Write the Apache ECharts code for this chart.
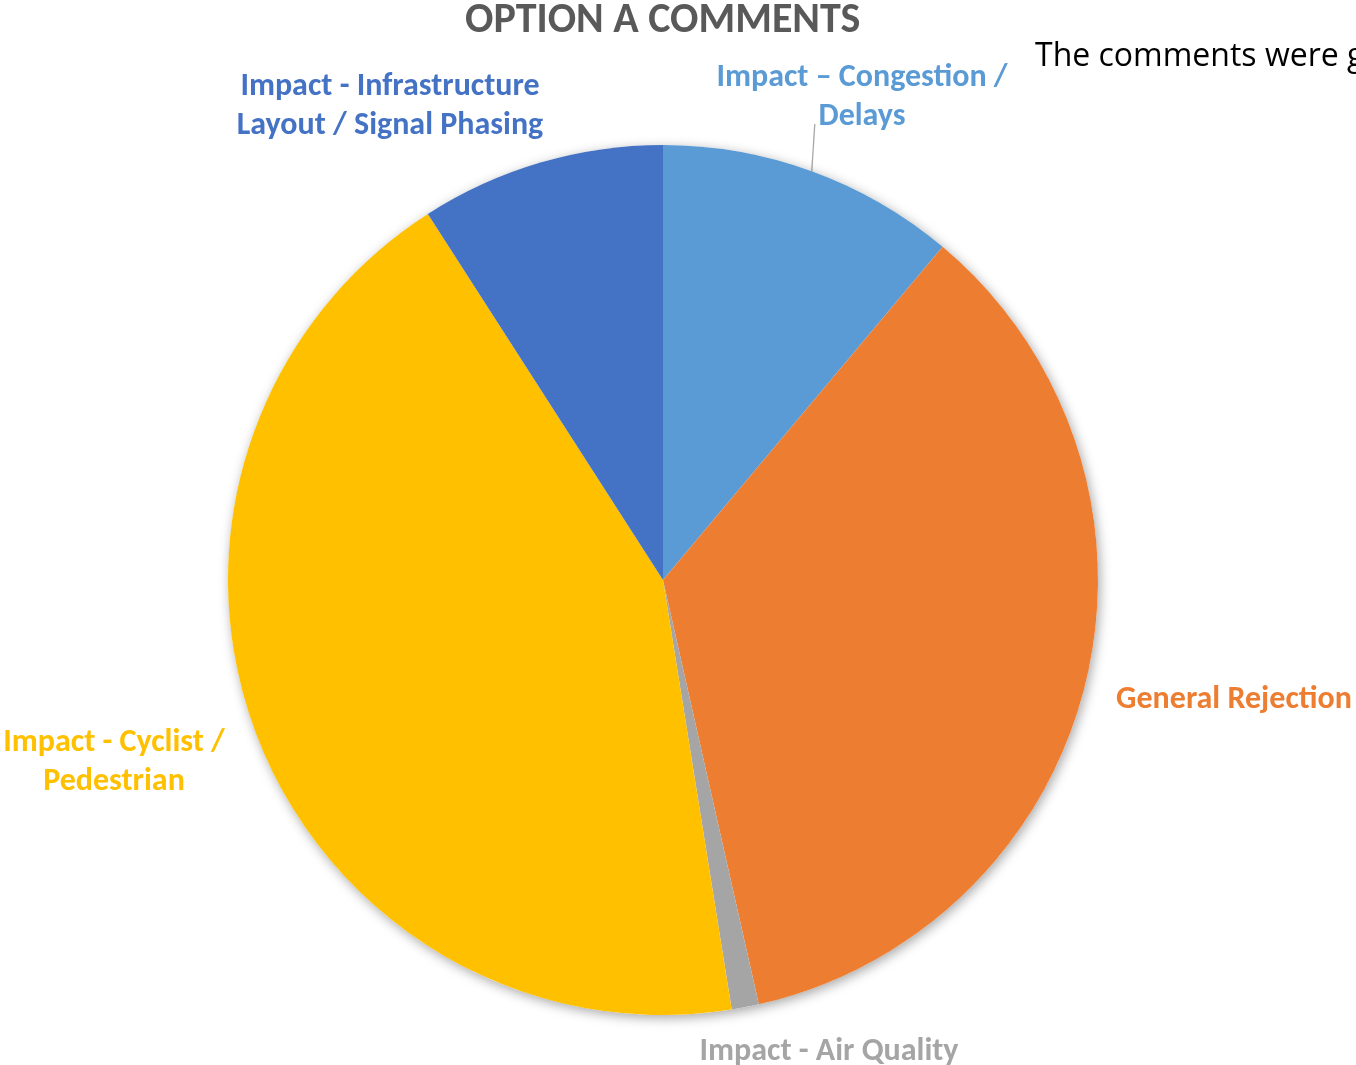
<!DOCTYPE html>
<html>
<head>
<meta charset="utf-8">
<title>Option A Comments</title>
<script src="https://cdn.jsdelivr.net/npm/echarts@6/dist/echarts.min.js"></script>
<style>
  html, body { margin: 0; padding: 0; background: #ffffff; }
  #chart { width: 1356px; height: 1065px; }
</style>
</head>
<body>
<div id="chart"></div>
<script>
// Comment themes (clockwise from 12 o'clock) and number of comments in each
const categories = [
  'Impact \u2013 Congestion /\nDelays',
  'General Rejection',
  'Impact - Air Quality',
  'Impact - Cyclist /\nPedestrian',
  'Impact - Infrastructure\nLayout / Signal Phasing'
];
const counts = [11, 35, 1, 43, 9];
const colors = ['#5B9BD5', '#ED7D31', '#A5A5A5', '#FFC000', '#4472C4'];

// Label anchor points (text block centres) for each theme
const labelPos = [
  [862, 97],
  [1234, 700],
  [829, 1052],
  [114, 762],
  [390, 106]
];

const FONT = 'Carlito, Lato, "Open Sans", sans-serif';
const CENTER = [663, 580];
const RADIUS = 435;

const total = counts.reduce((a, b) => a + b, 0);

const chart = echarts.init(document.getElementById('chart'), null, { renderer: 'canvas' });

chart.setOption({
  backgroundColor: '#ffffff',
  animation: false,
  title: [
    {
      text: 'OPTION A COMMENTS',
      left: 460,
      top: -5,
      textStyle: { fontFamily: FONT, fontWeight: 'bold', fontSize: 42, color: '#595959' }
    },
    {
      text: 'The comments were grouped',
      left: 1030,
      top: 36,
      textStyle: { fontFamily: '"Open Sans", Lato, sans-serif', fontWeight: 'normal', fontSize: 32, color: '#000000' }
    }
  ],
  series: [
    {
      // soft drop shadow under the whole pie
      type: 'pie',
      silent: true,
      center: CENTER,
      radius: RADIUS,
      label: { show: false },
      labelLine: { show: false },
      itemStyle: {
        color: '#ffffff',
        shadowBlur: 12,
        shadowColor: 'rgba(0,0,0,0.35)',
        shadowOffsetX: 2,
        shadowOffsetY: 3
      },
      data: [{ value: total, name: 'all' }]
    },
    {
      type: 'pie',
      center: CENTER,
      radius: RADIUS,
      startAngle: 90,
      clockwise: true,
      avoidLabelOverlap: false,
      itemStyle: { borderWidth: 0 },
      label: {
        show: true,
        position: 'outside',
        formatter: '{b}',
        fontFamily: FONT,
        fontWeight: 'bold',
        fontSize: 32,
        lineHeight: 39,
        align: 'center'
      },
      labelLine: { show: false },
      labelLayout: function (params) {
        const p = labelPos[params.dataIndex];
        const out = { x: p[0], y: p[1], align: 'center', verticalAlign: 'middle' };
        // leader line rises almost straight up from the slice edge to the label
        const pts = params.labelLinePoints;
        if (pts && pts.length) {
          const start = pts[0];
          out.labelLinePoints = [start, [start[0] + 3, p[1] + 27]];
        }
        return out;
      },
      data: categories.map((name, i) => ({
        name: name,
        value: counts[i],
        itemStyle: { color: colors[i] },
        label: { color: colors[i] },
        labelLine: i === 0
          ? { show: true, length: 10, length2: 0, smooth: false,
              lineStyle: { color: '#A6A6A6', width: 1.3 } }
          : { show: false }
      }))
    }
  ]
});
</script>
</body>
</html>
